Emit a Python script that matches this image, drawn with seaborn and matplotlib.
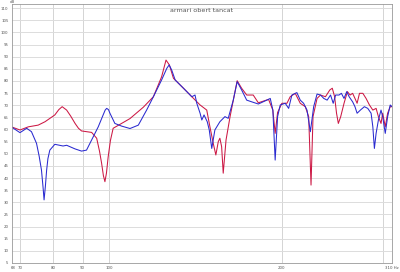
import numpy as np
import pandas as pd
import matplotlib
matplotlib.use("Agg")
import matplotlib.pyplot as plt
import seaborn as sns

title = "armari obert tancat"

freq_blue = [67.8, 70, 71.9, 73.3, 74.8, 75.6, 76.3, 76.8, 77.1, 77.5, 77.9, 78.3, 78.9, 80.5,
             83.2, 84.4, 87.3, 89.6, 91.4, 93.3, 95.8, 97.7, 98.5, 99.1, 99.8, 100.4, 102.4,
             105.2, 108.8, 112.5, 116.3, 119.5, 123.5, 126.1, 127.3, 128.6, 130.4, 134.8,
             139.4, 141.2, 142.2, 144.1, 145.1, 146.4, 148.3, 149.5, 151, 152.9, 156, 159.2,
             161.3, 164.6, 167.2, 170.2, 173.7, 177.2, 182, 188.3, 190.9, 192.9, 194.7, 196.6,
             198.7, 202.7, 205.5, 208.2, 212.4, 215.3, 218.2, 221.2, 224.2, 227.2, 230.3,
             233.5, 236.6, 239.8, 243.1, 245.7, 248.1, 251.5, 253.9, 256.6, 259.4, 261.9,
             265.6, 268.1, 270.4, 274, 278.4, 282.2, 286, 288, 289.8, 291.8, 294.5, 297.6,
             299.6, 302.7, 305.6, 308.8, 311]
db_blue = [60.9, 58.7, 60.5, 59.1, 54.3, 49, 43.3, 36, 31, 36.5, 43.3, 48, 51.5, 53.9,
           53.2, 53.5, 52, 51.1, 51.5, 55.7, 61.1, 66, 68, 68.7, 68.2, 66.7, 62.5,
           61.4, 60.4, 61.8, 68, 73.5, 80.4, 85.2, 86.6, 84.5, 80.4, 77,
           73.5, 74.2, 70.8, 66.7, 63.9, 66, 63.2, 59.8, 52.2, 59.8, 63.2, 65.3,
           64.6, 72.1, 79.7, 76.3, 72.1, 71.4, 70.5, 72.1, 72.8, 68, 47.4, 65.3,
           70.1, 70.8, 68.7, 74.2, 75.2, 72.1, 70.8, 68, 59.1, 69.4, 74.6,
           74.2, 72.8, 72.1, 74.2, 70.8, 74.2, 74.2, 74.9, 72.8, 75.6, 73.5,
           71.4, 69.4, 66.7, 68, 69.4, 68.7, 66.7, 61.1, 52.2, 58.4, 63.9, 68,
           65.3, 58.4, 65.3, 70.1, 69.4]

freq_red = [67.8, 70, 72.4, 75.3, 77.4, 80.5, 81.8, 82.9, 84.4, 85.8, 87.3, 88.5, 89.6, 93.3,
            95.2, 96.3, 97.1, 97.8, 98.4, 99.0, 99.7, 100.6, 101.7, 105.2, 108.8, 114.8,
            119.5, 123.5, 125.7, 127.4, 129.5, 134.8, 139.4, 144.1, 148, 149.9, 151.9, 153.5,
            155, 156, 157.1, 158.1, 159.9, 162.5, 167.2, 170.2, 173.7, 178.3, 182, 189.6,
            192.9, 194.7, 196.6, 200, 204.1, 206.8, 211, 215.3, 219.7, 222.7, 224.8, 226.6,
            230.3, 233.5, 238.2, 242.4, 244.8, 247.1, 249, 250.8, 253.2, 256.6, 260.1,
            262.9, 265.6, 268.1, 270.4, 273, 276.7, 280.3, 284.1, 288, 291.8, 294.5, 297.6,
            299.6, 302.7, 305.6, 308.8, 311]
db_red = [61, 59.8, 61.1, 61.8, 63.2, 66, 68.2, 69.4, 68, 65.5, 62.5, 60.5, 59.4, 58.8,
          56.4, 51, 46.1, 41, 38.5, 42, 48.8, 55.5, 60.5, 62.5, 64.5, 69.2,
          73.5, 81.7, 88.6, 86.6, 81.1, 77, 73.5, 70.1, 68, 61.1, 54.3, 49.5,
          55, 56.4, 52.9, 42, 55.7, 65.3, 80.1, 77, 74.2, 74.2, 71, 72.4,
          68, 58.4, 67, 70.8, 70.8, 73.5, 74.9, 70.8, 69.4, 65.3, 37.1, 65.3,
          72.8, 74.2, 73.5, 76.3, 77, 73.5, 66.7, 62.5, 65.3, 70.8, 75.6,
          74.2, 74.9, 72.8, 70.8, 74.9, 74.9, 72.8, 70.1, 68, 68.7, 65.3, 62.5,
          66.7, 61.1, 66.7, 69.4, 69.4]

xtick_vals = [68, 70, 80, 90, 100, 200, 311]
xtick_labels = ["68", "70", "80", "90", "100", "200", "310 Hz"]
xgrid_vals = [70, 80, 90, 100, 200, 300]
ytick_vals = list(range(5, 111, 5))

df = pd.concat([
    pd.DataFrame({"f": freq_red, "dB": db_red, "s": "tancat"}),
    pd.DataFrame({"f": freq_blue, "dB": db_blue, "s": "obert"}),
], ignore_index=True)

sns.set_style("white")
fig = plt.figure(figsize=(4.0, 2.72), dpi=100)
ax = fig.add_axes([12 / 400, 1 - 263 / 272, 380 / 400, 259 / 272])

sns.lineplot(data=df, x="f", y="dB", hue="s", sort=False, estimator=None,
             palette={"tancat": "#cc1844", "obert": "#2a2ad0"}, linewidth=0.75,
             legend=False, ax=ax)

ax.set_xscale("log")
ax.set_xlim(67.8, 311)
ax.set_ylim(5, 111.7)
ax.set_xticks(xtick_vals)
ax.set_xticklabels(xtick_labels)
ax.xaxis.set_minor_locator(matplotlib.ticker.NullLocator())
ax.set_yticks(ytick_vals)
ax.set_yticklabels([str(v) for v in ytick_vals])
for v in xgrid_vals:
    ax.axvline(v, color="#d4d4d4", lw=0.7, zorder=0)
for v in ytick_vals:
    ax.axhline(v, color="#dcdcdc", lw=0.7, zorder=0)
ax.tick_params(axis="both", labelsize=2.8, colors="#555555", length=1.5, width=0.4, pad=1)
for s in ax.spines.values():
    s.set_color("#999999")
    s.set_linewidth(0.6)
ax.set_xlabel("")
ax.set_ylabel("")
fig.text(12 / 400, 1 - 2 / 272, "dB", fontsize=2.8, color="#555555", ha="center", va="center")
ax.text(0.5, 1 - 6 / 259, title, transform=ax.transAxes, fontsize=4.6,
        color="#555555", ha="center", va="center")
fig.savefig("out.png", dpi=100)
